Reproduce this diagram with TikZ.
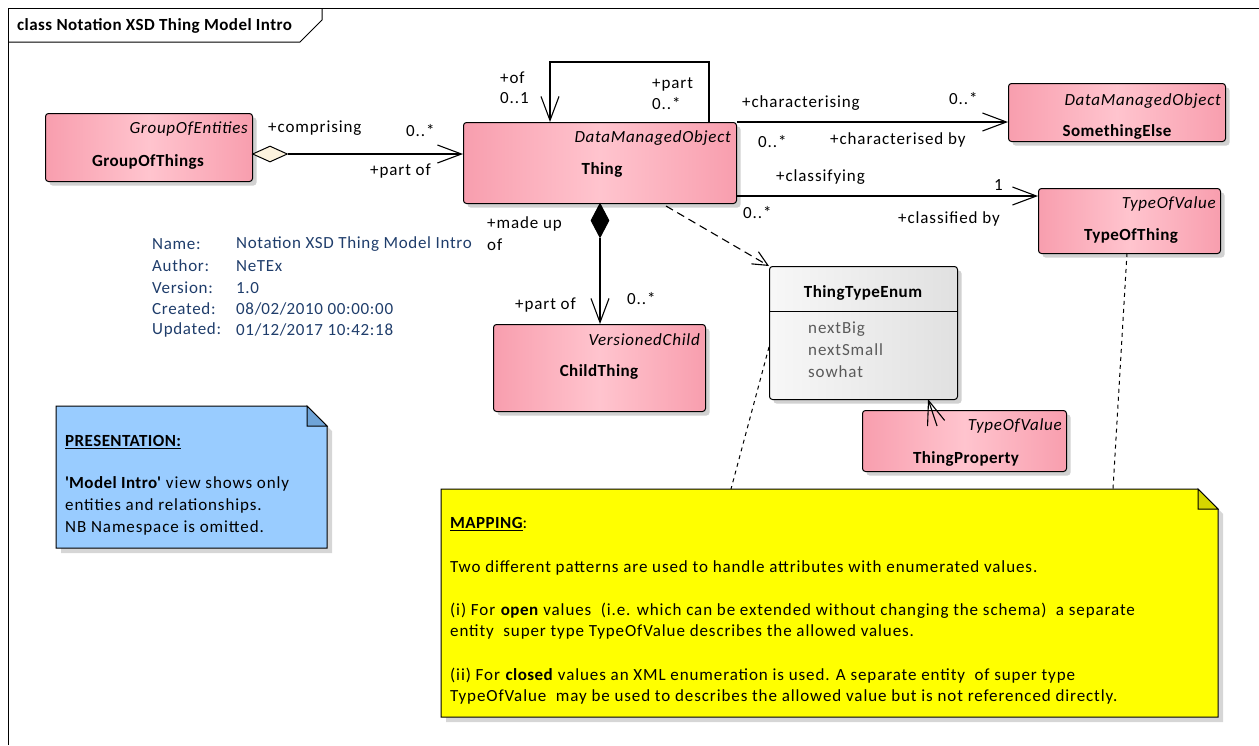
\documentclass[tikz,border=0pt]{standalone}
\usepackage{fontspec}
\setmainfont{Carlito}[LetterSpace=5.3,
  ItalicFeatures={LetterSpace=4.3},
  BoldFeatures={LetterSpace=2.6}]
\newfontfamily\metafont{Carlito}[LetterSpace=4]
\usetikzlibrary{arrows.meta,shapes.geometric,shadows,calc}

\definecolor{pinkedge}{RGB}{248,158,174}
\definecolor{pinkmid}{RGB}{255,196,206}
\definecolor{metablue}{RGB}{31,61,107}
\definecolor{noteblue}{RGB}{153,204,255}
\definecolor{bluefold}{RGB}{111,164,216}
\definecolor{noteyellow}{RGB}{255,255,0}
\definecolor{yellowfold}{RGB}{214,214,0}
\definecolor{enumtxt}{RGB}{90,90,90}
\definecolor{cream}{RGB}{253,243,222}

\tikzset{
  lbl/.style={font=\fontsize{17}{20}\selectfont, inner sep=0pt, anchor=west},
  stereo/.style={font=\fontsize{17}{20}\selectfont\itshape, inner sep=0pt, anchor=east},
  cname/.style={font=\fontsize{17}{20}\selectfont\bfseries, inner sep=0pt},
  meta/.style={lbl, font=\fontsize{17}{20}\metafont, text=metablue},
  notetxt/.style={lbl},
  classbox/.style={draw=black, line width=1pt, rounded corners=3pt, inner sep=0pt,
    anchor=north west, left color=pinkedge, right color=pinkedge, middle color=pinkmid,
    drop shadow={shadow xshift=4pt, shadow yshift=-4pt, fill=black!18, opacity=1}},
  enumbox/.style={draw=black, line width=1pt, rounded corners=3pt, inner sep=0pt,
    anchor=north west, left color=white!97!black, right color=white!88!black,
    drop shadow={shadow xshift=4pt, shadow yshift=-4pt, fill=black!18, opacity=1}},
  conn/.style={line width=1.1pt, draw=black},
  openhead/.style={-{Straight Barb[length=24pt,width=18pt]}},
  smallhead/.style={-{Straight Barb[length=15pt,width=14pt]}},
  deplink/.style={conn, dash pattern=on 8pt off 5pt},
  notelink/.style={line width=1pt, dash pattern=on 4pt off 4pt},
  notebody/.style={draw=black, line width=1pt,
    drop shadow={shadow xshift=5pt, shadow yshift=-5pt, fill=black!16, opacity=1}},
}

\begin{document}
\begin{tikzpicture}[x=1pt,y=-1pt]
\useasboundingbox (0,0) rectangle (1259,745);

% diagram frame and its name tab
\draw[line width=1pt] (8,745) -- (8,8) -- (1259,8);
\draw[line width=1pt] (8,42) -- (300,42) -- (322,20) -- (322,8);
\node[lbl, font=\fontsize{17}{20}\selectfont\bfseries] (title) at (17,26) {class Notation XSD Thing Model Intro};

% classes
\node[classbox, minimum width=207pt, minimum height=68pt] (grp) at (45,113) {};
\node[stereo] (grpS) at (248,129) {GroupOfEntities};
\node[cname] (grpN) at (148,162) {GroupOfThings};

\node[classbox, minimum width=273pt, minimum height=81pt] (thing) at (463,122) {};
\node[stereo] (thingS) at (731,138) {DataManagedObject};
\node[cname] (thingN) at (602,170) {Thing};

\node[classbox, minimum width=217pt, minimum height=58pt] (se) at (1008,83) {};
\node[stereo] (seS) at (1221,101) {DataManagedObject};
\node[cname] (seN) at (1117,132) {SomethingElse};

\node[classbox, minimum width=182pt, minimum height=65pt] (tot) at (1038,188) {};
\node[stereo] (totS) at (1216,204) {TypeOfValue};
\node[cname] (totN) at (1131,236) {TypeOfThing};

\node[classbox, minimum width=212pt, minimum height=87pt] (child) at (493,324) {};
\node[stereo] (childS) at (700,340) {VersionedChild};
\node[cname] (childN) at (599,372) {ChildThing};

\node[classbox, minimum width=204pt, minimum height=61pt] (tprop) at (862,410) {};
\node[stereo] (tpropS) at (1062,426) {TypeOfValue};
\node[cname] (tpropN) at (966,459) {ThingProperty};

% enumeration
\node[enumbox, minimum width=188pt, minimum height=133pt] (enum) at (769,266) {};
\draw[line width=1pt] ($(enum.north west)+(0,45)$) -- ($(enum.north east)+(0,45)$);
\node[cname] (enumN) at (863,293) {ThingTypeEnum};
\node[lbl, text=enumtxt] (lit1) at (808,329) {nextBig};
\node[lbl, text=enumtxt] (lit2) at (808,350) {nextSmall};
\node[lbl, text=enumtxt] (lit3) at (808,372) {sowhat};

% aggregation GroupOfThings -> Thing
\node[diamond, draw=black, line width=1pt, fill=cream, minimum width=35pt, minimum height=16pt,
      inner sep=0pt, anchor=west] (aggD) at (252,154) {};
\draw[conn, openhead] (aggD.east) -- (aggD.east -| thing.west);
\node[lbl] (lComp) at (268,128) {+comprising};
\node[lbl] (lCompM) at (406,131) {0..*};
\node[lbl] (lPartOf) at (370,171) {+part of};

% self association on Thing
\coordinate (loopS) at (709,122);
\coordinate (loopE) at (550,122);
\draw[conn, openhead] (loopS) -- (709,62) -| (loopE);
\node[lbl] (lOf) at (500,78) {+of};
\node[lbl] (lOfM) at (500,98) {0..1};
\node[lbl] (lPart) at (652,84) {+part};
\node[lbl] (lPartM) at (652,104) {0..*};

% Thing -> SomethingElse
\draw[conn, openhead] (thing.north east) -- (thing.north east -| se.west);
\node[lbl] (lChar) at (742,103) {+characterising};
\node[lbl] (lCharM) at (949,99) {0..*};
\node[lbl] (lCbyM) at (758,142) {0..*};
\node[lbl] (lCby) at (830,140) {+characterised by};

% Thing -> TypeOfThing
\coordinate (clsS) at (736,196);
\draw[conn, openhead] (clsS) -- (clsS -| tot.west);
\node[lbl] (lCls) at (776,177) {+classifying};
\node[lbl] (lClsM) at (994,185) {1};
\node[lbl] (lClbyM) at (743,213) {0..*};
\node[lbl] (lClby) at (898,219) {+classified by};

% composition Thing -> ChildThing
\node[diamond, draw=black, line width=1pt, fill=black, minimum width=18pt, minimum height=34pt,
      inner sep=0pt, anchor=north] (compD) at (600,203) {};
\draw[conn, openhead] (compD.south) -- (compD.south |- child.north);
\node[lbl] (lMade) at (487,224) {+made up};
\node[lbl] (lMadeOf) at (487,245) {of};
\node[lbl] (lChPart) at (515,305) {+part of};
\node[lbl] (lChM) at (627,299) {0..*};

% dependency Thing -> ThingTypeEnum
\coordinate (depS) at (666,206);
\draw[deplink, smallhead] (depS) -- (enum.north west);

% ThingProperty -> ThingTypeEnum
\coordinate (tpS) at (937,426);
\coordinate (enumB) at (928,399);
\draw[conn, openhead] (tpS) -- (enumB);

% model metadata
\foreach \i/\k/\v/\y in {1/Name:/Notation XSD Thing Model Intro/244, 2/Author:/NeTEx/266,
    3/Version:/1.0/288, 4/Created:/08\slash 02\slash 2010 00:00:00/309,
    5/Updated:/01\slash 12\slash 2017 10:42:18/330}{
  \node[meta] (metaK\i) at (152,\y) {\k};
  \node[meta] (metaV\i) at (236,\y) {\v};
}

% presentation note
\filldraw[notebody, fill=noteblue] (56,406) -- (307,406) -- (327,426) -- (327,548) -- (56,548) -- cycle;
\filldraw[draw=black, line width=1pt, fill=bluefold] (307,406) -- (307,426) -- (327,426) -- cycle;
\node[notetxt] (presT) at (65,442) {\textbf{\underline{PRESENTATION:}}};
\node[notetxt] (pres1) at (65,484) {\textbf{\textquotesingle Model Intro\textquotesingle} view shows only};
\node[notetxt] (pres2) at (65,506) {entities and relationships.};
\node[notetxt] (pres3) at (65,528) {NB Namespace is omitted.};

% mapping note
\filldraw[notebody, fill=noteyellow] (441,489) -- (1198,489) -- (1218,509) -- (1218,717) -- (441,717) -- cycle;
\filldraw[draw=black, line width=1pt, fill=yellowfold] (1198,489) -- (1198,509) -- (1218,509) -- cycle;
\node[notetxt] (mapT) at (450,524) {\textbf{\underline{MAPPING}}:};
\node[notetxt] (map1) at (450,568) {Two different patterns are used to handle attributes with enumerated values.};
\node[notetxt] (map2) at (450,611) {(i) For \textbf{open} values\ \ (i.e. which can be extended without changing the schema)\ \ a separate};
\node[notetxt] (map3) at (450,632) {entity\ \ super type TypeOfValue describes the allowed values.};
\node[notetxt] (map4) at (450,676) {(ii) For \textbf{closed} values an XML enumeration is used. A separate entity\ \ of super type};
\node[notetxt] (map5) at (450,697) {TypeOfValue\ \ may be used to describes the allowed value but is not referenced directly.};

% note links
\coordinate (enumL) at (769,347);
\coordinate (mapA) at (731,489);
\draw[notelink] (enumL) -- (mapA);
\coordinate (totB) at (1127,253);
\coordinate (mapB) at (1113,489);
\draw[notelink] (totB) -- (mapB);
\end{tikzpicture}
\end{document}
